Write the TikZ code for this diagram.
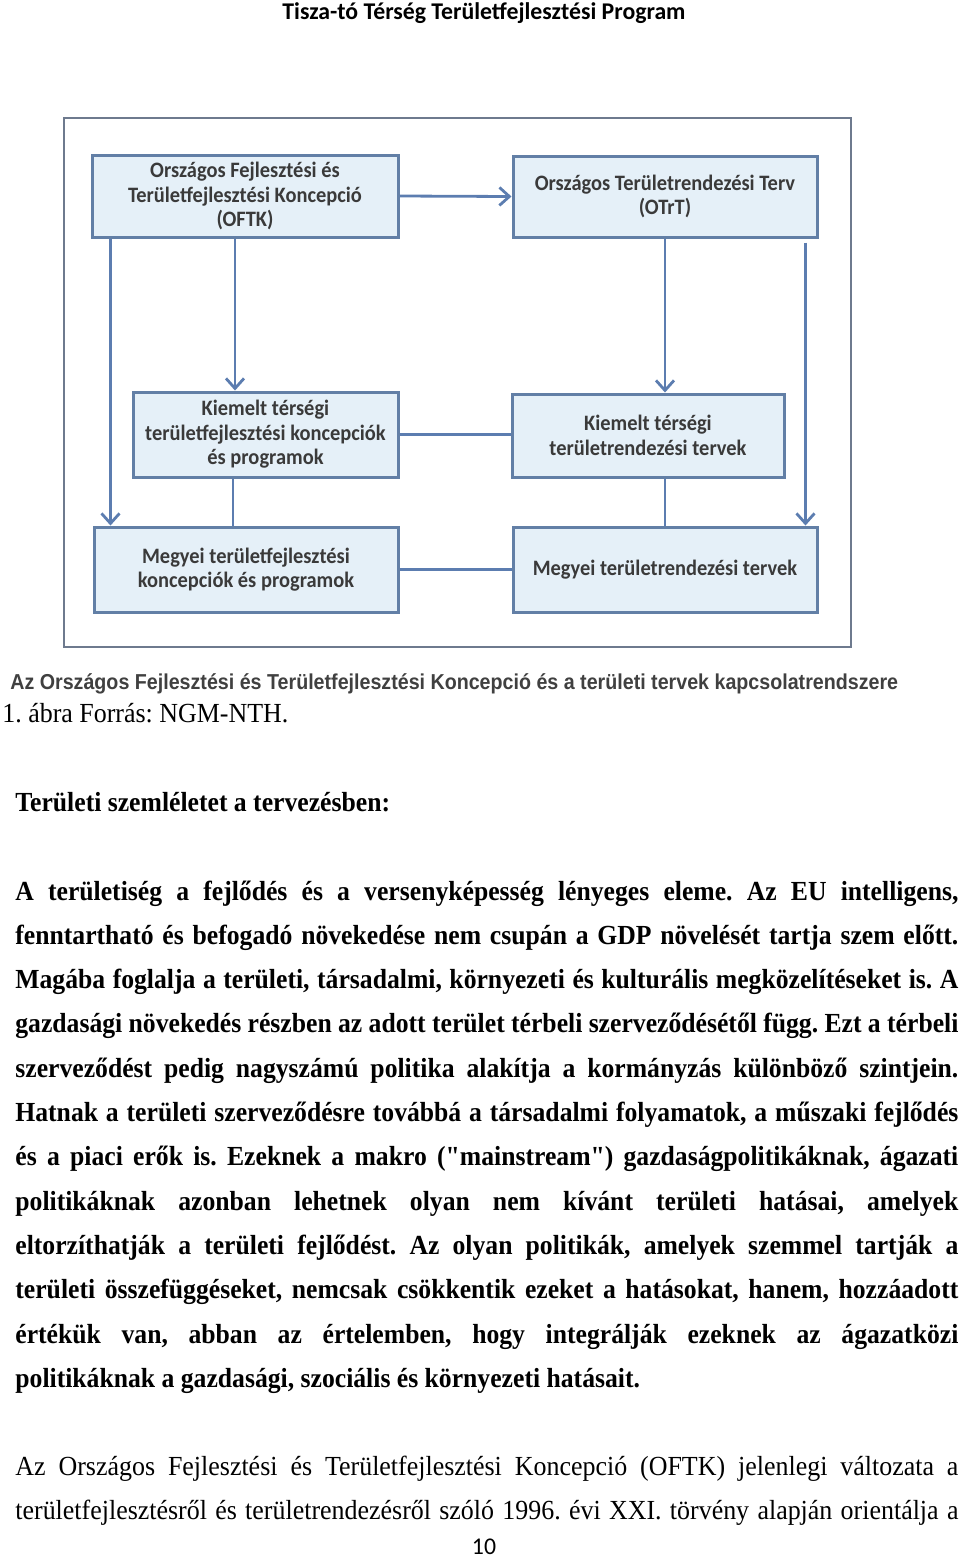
\documentclass[tikz,border=0pt]{standalone}
\usepackage{fontspec}
\usepackage{xcolor}
\usetikzlibrary{arrows.meta, positioning}

\setmainfont{Liberation Serif}[FakeStretch=0.94, BoldFeatures={FakeStretch=0.93}]
\newfontfamily\rawserif{Liberation Serif}[FakeStretch=0.93]
\newfontfamily\calfont{Carlito}[FakeStretch=0.93]
\newfontfamily\headfont{Carlito}[FakeStretch=0.99]
\newfontfamily\arialfont{Liberation Sans}[FakeStretch=0.91]

\definecolor{boxfill}{RGB}{229,240,248}
\definecolor{boxline}{RGB}{98,127,166}
\definecolor{linkblue}{RGB}{92,125,176}
\definecolor{framegray}{RGB}{110,122,142}
\definecolor{boxtext}{RGB}{58,58,58}
\definecolor{captext}{RGB}{64,64,64}

\tikzset{
  planbox/.style={draw=boxline, fill=boxfill, line width=1.5pt, align=center, inner sep=0pt,
    text=boxtext, font=\calfont\bfseries\fontsize{11}{12.3}\selectfont},
  link/.style={draw=linkblue, line width=1.4pt},
  >={Straight Barb[length=5pt, width=9pt]},
  bodytext/.style={anchor=base west, inner sep=0pt, text width=471.5pt, align=justify,
    font=\fontsize{13.8}{22.15}\selectfont},
}

\begin{document}
\frenchspacing
\begin{tikzpicture}[x=0.5pt, y=-0.5pt]
\useasboundingbox (0,0) rectangle (960,1559);

\node[anchor=base, inner sep=0pt, font=\headfont\bfseries\fontsize{12}{14}\selectfont] (head) at (484,19) {Tisza-tó Térség Területfejlesztési Program};

% keret
\draw[framegray, line width=1pt] (64,118) rectangle (851,647);

% dobozok
\node[planbox, minimum width=153pt, minimum height=41pt] (oftk) at (245,196) {Országos Fejlesztési és\\Területfejlesztési Koncepció\\(OFTK)};
\node[planbox, minimum width=152pt, minimum height=40.5pt] (otrt) at (665,196.5) {Országos Területrendezési Terv\\(OTrT)};
\node[planbox, minimum width=132.5pt, minimum height=42.5pt] (kiemfejl) at (265.5,434.5) {Kiemelt térségi\\területfejlesztési koncepciók\\és programok};
\node[planbox, minimum width=136pt, minimum height=41.5pt] (kiemrend) at (648,435.5) {Kiemelt térségi\\területrendezési tervek};
\node[planbox, minimum width=152pt, minimum height=42.5pt] (megyfejl) at (246,569.5) {Megyei területfejlesztési\\koncepciók és programok};
\node[planbox, minimum width=152pt, minimum height=42.5pt] (megyrend) at (665,569.5) {Megyei területrendezési tervek};

% kapcsolatok
\draw[link, ->] (oftk.east) -- (otrt.west);
\draw[link, ->] ([xshift=-5pt]oftk.south) -- ([xshift=-5pt]oftk.south |- kiemfejl.north);
\draw[link, ->] ([xshift=10pt]oftk.south west) -- ([xshift=10pt]oftk.south west |- megyfejl.north);
\draw[link] ([xshift=-16.25pt]kiemfejl.south) -- ([xshift=-16.25pt]kiemfejl.south |- megyfejl.north);
\draw[link] (kiemfejl.east) -- (kiemfejl.east -| kiemrend.west);
\draw[link] (megyfejl.east) -- (megyrend.west);
\draw[link, ->] (otrt.south) -- (otrt.south |- kiemrend.north);
\draw[link] (kiemrend.south -| otrt) -- (megyrend.north -| otrt);
\draw[link, ->] ([xshift=-6.5pt, yshift=-2pt]otrt.south east) -- ([xshift=-6.5pt]otrt.south east |- megyrend.north);

\node[anchor=base west, inner sep=0pt, text=captext, font=\arialfont\bfseries\fontsize{10.8}{12}\selectfont] (caption) at (10,689) {Az Országos Fejlesztési és Területfejlesztési Koncepció és a területi tervek kapcsolatrendszere};
\node[anchor=base west, inner sep=0pt, font=\fontsize{13.8}{16}\selectfont] (forras) at (2,722) {1. ábra Forrás: NGM-NTH.};

\node[anchor=base west, inner sep=0pt, font=\bfseries\fontsize{13.8}{16}\selectfont] (cim) at (15,811) {Területi szemléletet a tervezésben:};

\node[bodytext, font=\bfseries\fontsize{13.8}{22.15}\selectfont] (bekezdes1) at (15,900) {A területiség a fejlődés és a versenyképesség lényeges eleme. Az EU intelligens,\linebreak
fenntartható és befogadó növekedése nem csupán a GDP növelését tartja szem előtt.\linebreak
Magába foglalja a területi, társadalmi, környezeti és kulturális megközelítéseket is. A\linebreak
gazdasági növekedés részben az adott terület térbeli szerveződésétől függ. Ezt a térbeli\linebreak
szerveződést pedig nagyszámú politika alakítja a kormányzás különböző szintjein.\linebreak
Hatnak a területi szerveződésre továbbá a társadalmi folyamatok, a műszaki fejlődés\linebreak
és a piaci erők is. Ezeknek a makro ({\rawserif\bfseries"}mainstream{\rawserif\bfseries"}) gazdaságpolitikáknak, ágazati\linebreak
politikáknak azonban lehetnek olyan nem kívánt területi hatásai, amelyek\linebreak
eltorzíthatják a területi fejlődést. Az olyan politikák, amelyek szemmel tartják a\linebreak
területi összefüggéseket, nemcsak csökkentik ezeket a hatásokat, hanem, hozzáadott\linebreak
értékük van, abban az értelemben, hogy integrálják ezeknek az ágazatközi\linebreak
politikáknak a gazdasági, szociális és környezeti hatásait.};

\node[bodytext] (bekezdes2) at (15,1475) {\parfillskip=0pt Az Országos Fejlesztési és Területfejlesztési Koncepció (OFTK) jelenlegi változata a\linebreak
területfejlesztésről és területrendezésről szóló 1996. évi XXI. törvény alapján orientálja a\par};

\node[anchor=base, inner sep=0pt, font=\headfont\fontsize{12}{14}\selectfont] (oldal) at (484,1554) {10};
\end{tikzpicture}
\end{document}
